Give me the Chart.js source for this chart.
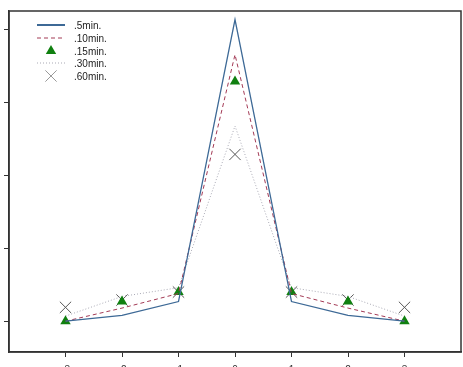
<!DOCTYPE html>
<html>
<head>
<meta charset="utf-8">
<script src="https://cdn.jsdelivr.net/npm/chart.js@4.4.1/dist/chart.umd.min.js"></script>
<style>
  body { margin: 0; background: #fff; }
  #wrap { position: relative; width: 463px; height: 367px; overflow: hidden; background: #fff; }
  #chart { position: absolute; left: -60px; top: 0; }
</style>
</head>
<body>
<div id="wrap"><canvas id="chart" width="530" height="390"></canvas></div>
<script>
// dati
const xValues = [-3, -2, -1, 0, 1, 2, 3];
const xTicks = [-3, -2, -1, 0, 1, 2, 3];
const yTicks = [0, 0.1, 0.2, 0.3, 0.4];

const min5 = [0.0, 0.008, 0.027, 0.414, 0.027, 0.008, 0.0];
const min10 = [0.0, 0.018, 0.038, 0.366, 0.038, 0.018, 0.0];
const min15 = [0.0, 0.027, 0.040, 0.329, 0.040, 0.027, 0.0];
const min30 = [0.007, 0.034, 0.046, 0.268, 0.046, 0.034, 0.007];
const min60 = [0.019, 0.029, 0.040, 0.229, 0.040, 0.029, 0.019];

const labels = [".5min.", ".10min.", ".15min.", ".30min.", ".60min."];

const pts = (arr) => arr.map((v, i) => ({ x: xValues[i], y: v }));

const OFF = 60; // parte del canvas nascosta a sinistra

const datasets = [
  { label: labels[0], data: pts(min5), borderColor: "#3d6996", borderWidth: 1.3,
    pointRadius: 0, showLine: true, fill: false },
  { label: labels[1], data: pts(min10), borderColor: "#a33a55", borderWidth: 1,
    borderDash: [4, 3], pointRadius: 0, showLine: true, fill: false },
  { label: labels[2], data: pts(min15), showLine: false, pointStyle: "triangle",
    pointRadius: 6, pointBackgroundColor: "#108010", pointBorderColor: "#108010", pointBorderWidth: 0 },
  { label: labels[3], data: pts(min30), borderColor: "#a9a9b4", borderWidth: 1,
    borderDash: [1, 2], pointRadius: 0, showLine: true, fill: false },
  { label: labels[4], data: pts(min60), showLine: false, pointStyle: "crossRot",
    pointRadius: 8, pointBorderColor: "#555", pointBorderWidth: 1, pointBackgroundColor: "#555" },
];

// cornice e legenda
const framePlugin = {
  id: "frame",
  afterDraw(chart) {
    const c = chart.ctx;
    const a = chart.chartArea;
    c.save();
    c.strokeStyle = "#333";
    c.lineWidth = 1.5;
    c.strokeRect(a.left, a.top, a.right - a.left, a.bottom - a.top);

    // legenda
    const rows = [25, 38, 51, 63, 76];
    const x0 = OFF + 37, x1 = OFF + 65, tx = OFF + 74;
    const cx = (x0 + x1) / 2;
    c.font = "10px 'Liberation Sans', Arial, sans-serif";
    c.textBaseline = "middle";
    datasets.forEach((ds, i) => {
      const y = rows[i];
      c.save();
      if (ds.showLine) {
        c.strokeStyle = ds.borderColor;
        c.lineWidth = i === 0 ? 2 : 1;
        c.setLineDash(ds.borderDash || []);
        c.beginPath();
        c.moveTo(x0, y);
        c.lineTo(x1, y);
        c.stroke();
      } else if (ds.pointStyle === "triangle") {
        const r = ds.pointRadius;
        c.fillStyle = ds.pointBackgroundColor;
        c.beginPath();
        c.moveTo(cx, y - r);
        c.lineTo(cx + r * 0.866, y + r * 0.5);
        c.lineTo(cx - r * 0.866, y + r * 0.5);
        c.closePath();
        c.fill();
      } else {
        const d = ds.pointRadius * 0.707;
        c.strokeStyle = "#999";
        c.lineWidth = 1;
        c.beginPath();
        c.moveTo(cx - d, y - d); c.lineTo(cx + d, y + d);
        c.moveTo(cx + d, y - d); c.lineTo(cx - d, y + d);
        c.stroke();
      }
      c.restore();
      c.fillStyle = "#222";
      c.fillText(ds.label, tx, y + 1);
    });
    c.restore();
  },
};

const ctx = document.getElementById("chart").getContext("2d");

new Chart(ctx, {
  type: "scatter",
  data: { datasets: datasets },
  options: {
    responsive: false,
    animation: false,
    layout: { padding: { top: 9, right: 3, left: 0, bottom: 0 } },
    plugins: { legend: { display: false }, tooltip: { enabled: false } },
    scales: {
      x: {
        type: "linear",
        min: -4,
        max: 4,
        afterBuildTicks: (s) => { s.ticks = xTicks.map((v) => ({ value: v })); },
        afterFit: (s) => { s.height = 38; },
        grid: { drawOnChartArea: false, drawTicks: true, tickLength: 5, color: "#333", lineWidth: 1 },
        border: { color: "#333", width: 1.5 },
        ticks: { color: "#333", padding: 7, font: { family: "'Liberation Sans', Arial, sans-serif", size: 10 }, maxRotation: 0 },
      },
      y: {
        type: "linear",
        min: -0.0423,
        max: 0.4259,
        afterBuildTicks: (s) => { s.ticks = yTicks.map((v) => ({ value: v })); },
        afterFit: (s) => { s.width = OFF + 9; },
        grid: { drawOnChartArea: false, drawTicks: true, tickLength: 5, color: "#333", lineWidth: 1 },
        border: { color: "#333", width: 1.5 },
        ticks: { color: "#333", padding: 5, font: { family: "'Liberation Sans', Arial, sans-serif", size: 10 } },
      },
    },
  },
  plugins: [framePlugin],
});
</script>
</body>
</html>
